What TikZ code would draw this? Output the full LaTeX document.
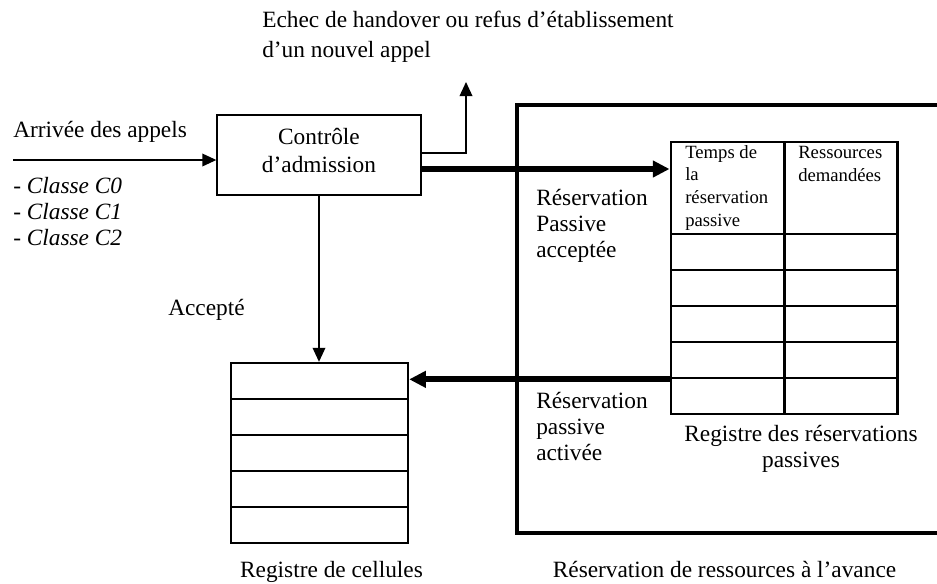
\documentclass[tikz,border=0pt]{standalone}
\usepackage{fontspec}
\setmainfont{Liberation Serif}
\usetikzlibrary{arrows.meta, positioning}

\begin{document}
\begin{tikzpicture}[x=0.75pt, y=-0.75pt,
  txt/.style={inner sep=0pt, align=left, font=\fontsize{17.5}{19.5}\selectfont},
  small/.style={inner sep=0pt, align=left, font=\fontsize{14}{17}\selectfont},
  ctrlbox/.style={draw, line width=1pt, minimum width=153pt, minimum height=60pt,
    align=center, text depth=6.5pt, font=\fontsize{17.5}{21}\selectfont},
  cell/.style={draw, line width=1.8pt, minimum width=132.75pt, minimum height=27pt, inner sep=0pt},
  tcell/.style={draw, line width=2pt, minimum width=85pt, minimum height=27pt, inner sep=0pt},
  arrow/.style={-{Triangle[length=10.5pt, width=9.5pt]}, line width=1pt},
  bigarrow/.style={-{Triangle[length=12.5pt, width=12pt]}, line width=4.5pt}]
  \useasboundingbox (0,0) rectangle (937,583);

  % admission control
  \node[ctrlbox] (ctrl) at (319,155) {Contrôle\\d’admission};
  \coordinate (in) at (13,160);
  \coordinate (reject) at (466,82);
  \node[txt, anchor=base west] (arr) at (13,137) {Arrivée des appels};
  \node[txt, anchor=base west] (cls) at (13,245)
    {- \textit{Classe C0}\\- \textit{Classe C1}\\- \textit{Classe C2}};
  \node[txt, anchor=base west, font=\fontsize{17.5}{22.5}\selectfont] (echec) at (262,57)
    {Echec de handover ou refus d’établissement\\d’un nouvel appel};
  \node[txt, anchor=base west] (acc) at (168,315) {Accepté};

  % cell register
  \foreach \i in {1,...,5}
    \node[cell] (c\i) at (319.5,345+36*\i) {};
  \node[txt, anchor=base] (reglab) at (331.5,577) {Registre de cellules};

  % advance reservation frame
  \draw[line width=3pt, line join=miter] (937,105) -| (517,533) -- (937,533);
  \node[txt, anchor=base] (frame) at (724.5,577) {Réservation de ressources à l’avance};

  % passive reservation register
  \node[tcell, minimum height=69pt] (h1) at (727.5,188) {};
  \node[tcell, minimum height=69pt] (h2) at (841,188) {};
  \foreach \i in {1,...,5} {
    \node[tcell] (a\i) at (727.5,216+36*\i) {};
    \node[tcell] (b\i) at (841,216+36*\i) {};
  }
  \node[small, anchor=base west] (th1) at (685,226)
    {Temps de\\la\\réservation\\passive};
  \node[small, anchor=base west] (th2) at (798,181) {Ressources\\demandées};
  \node[txt, anchor=base, align=center] (reslab) at (801,467)
    {Registre des réservations\\passives};
  \node[txt, anchor=base west] (pacc) at (536,257) {Réservation\\Passive\\acceptée};
  \node[txt, anchor=base west] (pact) at (536,460) {Réservation\\passive\\activée};

  % flows
  \draw[arrow] (in) -- (in -| ctrl.west);
  \draw[arrow] ([yshift=1.5pt]ctrl.east) -| (reject);
  \draw[bigarrow] ([yshift=-10.5pt]ctrl.east) -- ([yshift=-10.5pt]ctrl.east -| h1.west);
  \draw[arrow] (ctrl.south) -- (ctrl.south |- c1.north);
  \draw[bigarrow] (a4.south west) -- (a4.south west -| c1.east);
\end{tikzpicture}
\end{document}
